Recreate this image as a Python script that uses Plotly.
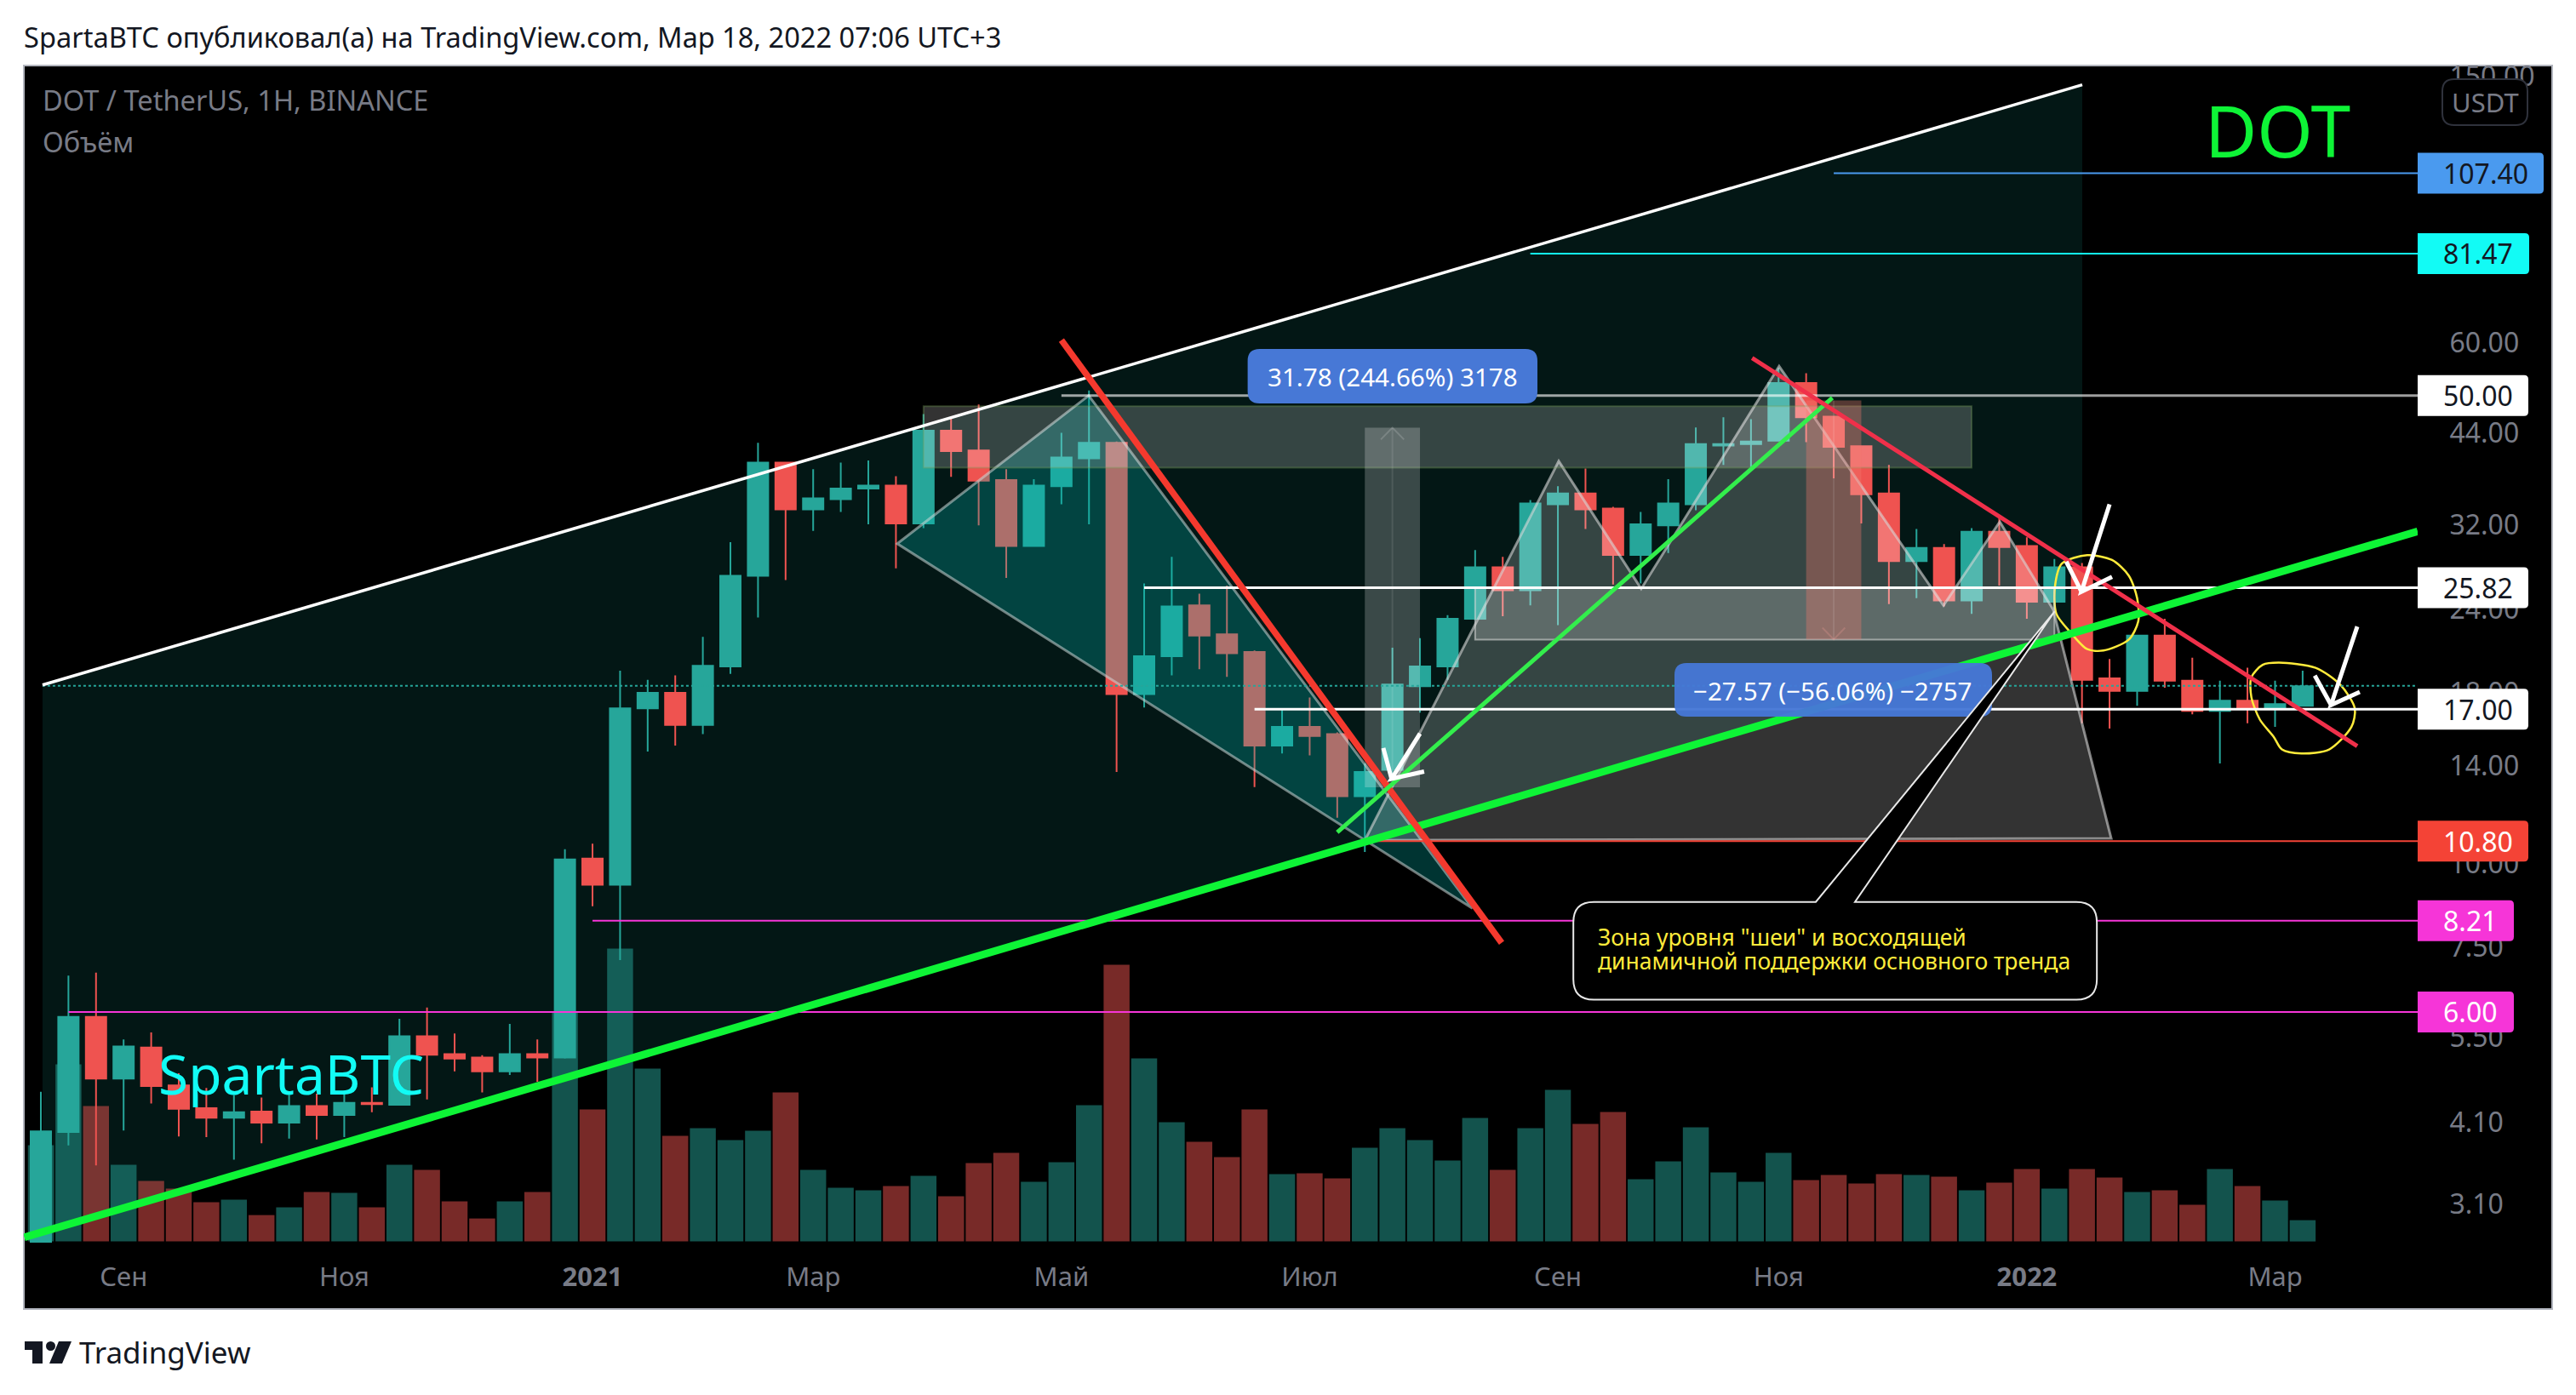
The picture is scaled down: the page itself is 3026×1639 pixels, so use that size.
import math
import plotly.graph_objects as go

# ---------- data ----------
weeks = list(range(83))
open_ = [2.71,3.97,5.90,4.77,5.31,4.66,4.31,4.17,4.26,4.10,4.34,4.21,4.39,4.36,5.52,5.19,5.13,4.89,5.19,5.13,
         10.17,9.29,17.05,17.98,16.1,19.7,26.9,39.7,33.8,35.0,36.3,36.7,32.2,44.3,41.4,37.4,29.8,36.6,40.3,42.5,
         17.9,20.4,24.3,22.0,20.7,15.0,16.0,15.6,12.6,13.8,18.4,19.7,23.2,27.7,25.6,34.4,35.7,33.9,28.9,32.0,
         34.4,42.1,42.3,42.8,52.2,46.5,42.0,35.7,28.3,29.6,24.7,31.3,29.8,24.6,27.7,18.9,18.1,21.9,18.75,16.9,
         17.5,17.05,17.2]
high = [4.56,6.80,6.87,5.46,5.59,4.86,4.62,4.51,4.47,4.51,4.53,4.56,4.63,5.86,6.09,5.57,5.17,5.76,5.46,10.5,
        10.7,19.4,18.8,19.1,21.8,30.2,42.5,39.8,38.8,39.7,40.0,37.9,46.9,46.4,48.5,38.8,37.5,44.0,50.9,42.7,
        26.2,28.7,25.3,26.0,20.8,17.0,17.7,15.7,14.1,21.0,21.7,23.5,29.4,28.7,34.9,36.6,38.9,34.1,33.5,37.5,
        44.8,46.4,46.1,55.0,54.0,46.6,42.1,39.4,31.6,30.0,31.7,33.0,30.7,28.5,28.1,20.2,21.9,23.2,20.3,18.75,
        19.6,18.75,19.4]
low = [2.71,3.79,3.54,3.99,4.38,3.91,3.90,3.61,3.82,3.88,3.87,3.90,4.25,4.35,4.44,4.89,4.55,4.83,4.72,5.11,
       8.63,7.17,14.7,15.0,15.6,19.2,23.3,26.5,31.4,33.5,32.1,27.6,31.7,37.8,32.0,26.7,29.8,34.4,32.1,13.7,
       17.1,19.1,19.5,19.0,13.0,14.6,14.5,11.7,10.4,13.3,16.8,18.8,23.1,23.4,24.3,22.7,31.6,26.1,26.2,29.1,
       33.7,39.4,39.1,42.7,42.6,37.6,32.2,24.4,24.9,24.2,23.6,26.0,23.2,24.0,16.2,15.9,17.2,18.3,16.7,14.1,
       16.2,16.0,17.2]
close = [3.98,5.90,4.77,5.33,4.65,4.30,4.17,4.25,4.10,4.34,4.21,4.39,4.37,5.52,5.18,5.11,4.89,5.19,5.13,10.14,
         9.29,17.05,17.98,16.1,19.74,26.9,39.7,33.8,35.1,36.3,36.7,32.2,44.3,41.3,37.3,29.8,36.7,40.4,42.5,17.9,
         20.4,24.2,21.9,20.6,15.0,16.0,15.5,12.6,13.7,18.5,19.7,23.2,27.7,25.6,34.5,35.7,33.8,28.9,32.1,34.5,
         42.3,42.3,42.7,52.2,46.4,41.9,35.6,28.3,29.6,24.7,31.3,29.7,24.6,27.7,18.8,18.1,21.9,18.75,16.9,17.5,
         17.05,17.3,18.4]
volume = [11.3,20.8,15.9,9.0,7.1,6.2,4.6,4.9,3.1,4.0,5.8,5.7,4.0,9.0,8.4,4.7,2.7,4.7,5.8,27.0,
          15.5,34.4,20.3,12.4,13.3,11.9,13.0,17.5,8.4,6.3,6.0,6.5,7.7,5.3,9.2,10.4,7.0,9.3,16.0,32.5,
          21.5,14.0,11.7,9.9,15.5,7.9,8.0,7.4,11.0,13.3,11.9,9.5,14.5,8.4,13.3,17.8,13.8,15.2,7.3,9.4,
          13.4,8.1,7.0,10.4,7.2,7.8,6.8,7.9,7.8,7.6,6.0,6.9,8.5,6.2,8.5,7.5,5.8,6.0,4.3,8.5,
          6.5,4.8,2.5]
month_ticks = [3, 11, 20, 28, 37, 46, 55, 63, 72, 81]
month_labels = ["Сен", "Ноя", "<b>2021</b>", "Мар", "Май", "Июл", "Сен", "Ноя", "<b>2022</b>", "Мар"]
price_ticks = [150, 60, 44, 32, 24, 18, 14, 10, 7.5, 5.5, 4.1, 3.1]
price_tick_labels = ["150.00", "60.00", "44.00", "32.00", "24.00", "18.00", "14.00", "10.00", "7.50", "5.50", "4.10", "3.10"]

last_price = 18.42
# horizontal rays: (start week, price)
ray_blue = (65, 107.40)
ray_cyan = (54, 81.47)
ray_50 = (37, 50.00)
ray_2582 = (40, 25.82)
ray_17 = (44, 17.00)
ray_108 = (48, 10.80)
ray_821 = (20, 8.21)
ray_6 = (1, 6.00)

# drawings: (week, price)
white_line = [(0.06, 18.48), (74.01, 145.6)]
green_main = [(-0.6, 2.763), (86.17, 31.34)]
channel = [(0.06, 18.48), (74.01, 145.6), (74.01, 22.27), (0.06, 2.816)]
zone_top = [(32, 48.2), (70, 39.0)]
zone_neck = [(52, 25.82), (73, 21.6)]
triangle = [(31.05, 30.04), (37.99, 50.0), (51.9, 8.57)]
hs_pattern = [(48, 10.83), (55.03, 39.9), (58.02, 25.73), (63.02, 55.3), (68.98, 24.29),
              (71.02, 32.4), (72.96, 23.92), (75.06, 10.9)]
range_up = [(48, 12.99), (50, 44.77)]
range_down = [(64, 49.18), (66, 21.61)]
red_thick = [(37.0, 60.5), (52.96, 7.61)]
green_thin = [(47.0, 11.13), (64.95, 49.6)]
red_thin = [(62.04, 56.9), (83.98, 14.97)]
arrow_1 = [(50.0, 15.63), (48.97, 13.38), (50.15, 13.72), (48.67, 14.87)]
arrow_2 = [(75.0, 34.4), (73.98, 25.47), (75.09, 26.8), (73.43, 28.25)]
arrow_3 = [(83.98, 22.59), (83.03, 17.25), (84.07, 18.04), (82.44, 19.08)]
circle_1 = [(74.19, 28.87), (75.09, 28.4), (75.7, 26.9), (76.0, 24.9), (76.04, 23.0), (75.7, 21.6), (74.78, 20.8),
            (74.19, 20.9), (73.58, 22.15), (73.07, 23.6), (73.02, 25.9), (73.27, 28.05), (74.19, 28.87)]
circle_2 = [(81.14, 19.95), (82.47, 19.6), (83.37, 18.48), (83.89, 17.05), (83.77, 16.0), (82.96, 14.8), (81.96, 14.6),
            (81.25, 14.8), (80.95, 15.46), (80.45, 16.4), (80.14, 17.73), (80.14, 18.97), (80.55, 19.8), (81.14, 19.95)]
callout_box = [(55.56, 8.76), (74.54, 6.26)]
callout_pointer = [(64.35, 8.76), (73.01, 23.8), (65.77, 8.76)]

# ---------- layout geometry ----------
W, H = 3026, 1639
BODY = 8  # the page keeps its default body margin
L, R, T, B = 28, 2840, 77, 1460
FRAME_R, FRAME_B = 2998, 1538
x_range = [-0.617, 86.17]
y_range = [0.4335, 2.192]
vol_range = [-0.14, 138.16]
FONT = "Noto Sans"
GREY = "#787B86"
UP, DOWN = "#26A69A", "#EF5350"


def px(x):
    return (x - L) / (R - L)


def py(y):
    return (B - y) / (B - T)


def pv(v):
    return (math.log10(v) - y_range[0]) / (y_range[1] - y_range[0])


def data_path(pts, closed=True):
    s = "M" + " L".join(f"{a},{b}" for a, b in pts)
    return s + (" Z" if closed else "")


shapes = []


def add_poly(pts, fill, line, width=2, layer="above", closed=True):
    shapes.append(dict(type="path", xref="x", yref="y2", path=data_path(pts, closed), fillcolor=fill,
                       line=dict(color=line, width=width), layer=layer))


def add_line(pts, color, width, dash="solid"):
    shapes.append(dict(type="line", xref="x", yref="y2", x0=pts[0][0], y0=pts[0][1], x1=pts[1][0], y1=pts[1][1],
                       line=dict(color=color, width=width, dash=dash)))


def add_rect(pts, fill, line, width=2):
    shapes.append(dict(type="rect", xref="x", yref="y2", x0=pts[0][0], y0=pts[0][1], x1=pts[1][0], y1=pts[1][1],
                       fillcolor=fill, line=dict(color=line, width=width)))


def add_ray(ray, color, width=2):
    add_line([ray, (x_range[1], ray[1])], color, width)


def add_arrow(pts, color="#FFFFFF", width=5):
    tail, tip, b1, b2 = pts
    path = f"M{tail[0]},{tail[1]} L{tip[0]},{tip[1]} L{b1[0]},{b1[1]} M{b2[0]},{b2[1]} L{tip[0]},{tip[1]}"
    shapes.append(dict(type="path", xref="x", yref="y2", path=path, line=dict(color=color, width=width)))


def paper_round(x0, y0, x1, y1, r, fill, line=None, lw=0, left=True):
    """x/y in pixels of the page"""
    P = lambda a, b: f"{px(a)},{py(b)}"
    rl = r if left else 0
    path = (f"M{P(x0 + rl, y0)} L{P(x1 - r, y0)} Q{P(x1, y0)} {P(x1, y0 + r)} L{P(x1, y1 - r)} Q{P(x1, y1)} {P(x1 - r, y1)} "
            f"L{P(x0 + rl, y1)} Q{P(x0, y1)} {P(x0, y1 - rl)} L{P(x0, y0 + rl)} Q{P(x0, y0)} {P(x0 + rl, y0)} Z")
    shapes.append(dict(type="path", xref="paper", yref="paper", path=path, fillcolor=fill,
                       line=dict(color=line or fill, width=lw)))


# frame + backdrop
shapes.append(dict(type="rect", xref="paper", yref="paper", x0=px(L), x1=px(FRAME_R), y0=py(T), y1=py(FRAME_B),
                   fillcolor="#000000", line=dict(color="#B2B5BE", width=2), layer="below"))
# channel background
add_poly(channel, "#031715", "rgba(0,0,0,0)", 0, layer="below")

# zones and patterns
ZONE = "rgba(255,255,255,0.2)"
add_poly(triangle, "rgba(0,188,180,0.28)", "rgba(205,215,215,0.55)", 3)
add_poly(hs_pattern, ZONE, "rgba(215,215,215,0.6)", 3)
add_rect(zone_top, ZONE, "rgba(120,160,90,0.35)", 2)
add_rect(zone_neck, ZONE, "rgba(215,215,215,0.6)", 2)

# price-range boxes
add_rect(range_up, "rgba(255,255,255,0.22)", "rgba(0,0,0,0)", 0)
mid_up = (range_up[0][0] + range_up[1][0]) / 2
add_line([(mid_up, range_up[0][1]), (mid_up, range_up[1][1])], "rgba(255,255,255,0.1)", 2)
add_poly([(mid_up - 0.42, 42.99), (mid_up, range_up[1][1]), (mid_up + 0.42, 42.99)], "rgba(0,0,0,0)",
         "rgba(255,255,255,0.16)", 2, closed=False)
add_rect(range_down, "rgba(244,120,110,0.35)", "rgba(0,0,0,0)", 0)
mid_dn = (range_down[0][0] + range_down[1][0]) / 2
add_line([(mid_dn, range_down[0][1]), (mid_dn, range_down[1][1])], "rgba(255,255,255,0.1)", 2)
add_poly([(mid_dn - 0.41, 22.5), (mid_dn, range_down[1][1]), (mid_dn + 0.41, 22.5)], "rgba(0,0,0,0)",
         "rgba(255,170,160,0.22)", 2, closed=False)

# rays
add_line([(0.06, last_price), (x_range[1], last_price)], UP, 2, "dot")
add_ray(ray_blue, "#4A9AEF")
add_ray(ray_cyan, "#12FBF5")
add_ray(ray_50, "rgba(255,255,255,0.62)", 3)
add_ray(ray_2582, "#FFFFFF", 3)
add_ray(ray_17, "#FFFFFF", 3)
add_ray(ray_108, "#F44336", 2)
add_ray(ray_821, "#F635D8", 2)
add_ray(ray_6, "#F635D8", 2)

# trend lines
add_line(white_line, "#FFFFFF", 3.5)
add_line(green_main, "#0EF436", 9)
add_line(red_thick, "#F5392E", 7.5)
add_line(green_thin, "#33EE4C", 5)
add_line(red_thin, "#F0304A", 5)
add_arrow(arrow_1)
add_arrow(arrow_2)
add_arrow(arrow_3)

# measure labels
paper_round(1465.6, 410, 1806, 474, 14, "#4778D6")
paper_round(1967, 779, 2340, 842, 14, "rgba(70,120,214,0.96)")

# callout with pointer
(cx0, cy0), (cx1, cy1) = callout_box
rx, ry = 0.74, 1.073
c_path = (f"M{cx0 + rx},{cy0} L{callout_pointer[0][0]},{callout_pointer[0][1]} "
          f"L{callout_pointer[1][0]},{callout_pointer[1][1]} L{callout_pointer[2][0]},{callout_pointer[2][1]} "
          f"L{cx1 - rx},{cy0} Q{cx1},{cy0} {cx1},{cy0 / ry} L{cx1},{cy1 * ry} Q{cx1},{cy1} {cx1 - rx},{cy1} "
          f"L{cx0 + rx},{cy1} Q{cx0},{cy1} {cx0},{cy1 * ry} L{cx0},{cy0 / ry} Q{cx0},{cy0} {cx0 + rx},{cy0} Z")
shapes.append(dict(type="path", xref="x", yref="y2", path=c_path, fillcolor="#000000",
                   line=dict(color="#E8E8E8", width=2)))

annotations = []


def text(x, y, s, size, color, anchor="left", bold=False):
    annotations.append(dict(xref="paper", yref="paper", x=px(x), y=py(y), text=f"<b>{s}</b>" if bold else s,
                            showarrow=False, xanchor=anchor, yanchor="middle",
                            font=dict(family=FONT, size=size, color=color), borderpad=0, borderwidth=0))


# price badges
badges = [(107.40, "107.40", "#4A9AEF", "#131722", 2988), (81.47, "81.47", "#12FBF5", "#131722", 2971),
          (50.00, "50.00", "#FFFFFF", "#131722", 2970), (25.82, "25.82", "#FFFFFF", "#131722", 2970),
          (17.00, "17.00", "#FFFFFF", "#131722", 2970), (10.80, "10.80", "#F44336", "#FFFFFF", 2970),
          (8.21, "8.21", "#F635D8", "#FFFFFF", 2953), (6.00, "6.00", "#F635D8", "#FFFFFF", 2953)]
for val, lab, col, tcol, right in badges:
    yc = B - pv(val) * (B - T)
    paper_round(R, yc - 24, right, yc + 24, 5, col, left=False)
    text(2870, yc, lab, 32, tcol)

# USDT box
paper_round(2869, 93, 2969, 147, 14, "#000000", "#2F323C", 2)
text(2919, 120, "USDT", 31, GREY, anchor="center")

# TradingView logo
INK = "#131722"
logo_T = [(29, 1576), (50, 1576), (50, 1602), (38, 1602), (38, 1586), (29, 1586)]
logo_slash = [(69, 1576), (84, 1576), (73, 1602), (58, 1602)]
for pts in (logo_T, logo_slash):
    shapes.append(dict(type="path", xref="paper", yref="paper",
                       path=data_path([(px(a), py(b)) for a, b in pts]), fillcolor=INK, line=dict(width=0)))
shapes.append(dict(type="circle", xref="paper", yref="paper", x0=px(54), x1=px(65), y0=py(1576), y1=py(1587),
                   fillcolor=INK, line=dict(width=0)))

text(28, 43, "SpartaBTC опубликовал(а) на TradingView.com, Мар 18, 2022 07:06 UTC+3", 32.6, INK)
text(50, 118, "DOT / TetherUS, 1H, BINANCE", 32.6, GREY)
text(50, 167, "Объём", 32.6, GREY)
text(93, 1588, "TradingView", 35, INK)
text(2590, 153, "DOT", 84, "#0EF436")
text(186, 1261, "SpartaBTC", 64, "#12FBF5")
text(1636, 442, "31.78 (244.66%) 3178", 29.6, "#FFFFFF", anchor="center")
text(2153, 811, "−27.57 (−56.06%) −2757", 29.6, "#FFFFFF", anchor="center")
text(1877, 1101, "Зона уровня \"шеи\" и восходящей", 26.5, "#FFEB3B")
text(1877, 1129, "динамичной поддержки основного тренда", 26.5, "#FFEB3B")

# ---------- traces ----------
fig = go.Figure()
vol_colors = ["rgba(38,166,154,0.5)" if c >= o else "rgba(239,83,80,0.5)" for o, c in zip(open_, close)]
fig.add_trace(go.Bar(x=weeks, y=volume, marker=dict(color=vol_colors, line=dict(width=0)), width=0.94,
                     yaxis="y", name="Объём", hoverinfo="skip"))
fig.add_trace(go.Candlestick(x=weeks, open=open_, high=high, low=low, close=close, yaxis="y2", name="DOT",
                             increasing=dict(line=dict(color=UP, width=2), fillcolor=UP),
                             decreasing=dict(line=dict(color=DOWN, width=2), fillcolor=DOWN),
                             whiskerwidth=0))
for ring in (circle_1, circle_2):
    fig.add_trace(go.Scatter(x=[p[0] for p in ring], y=[p[1] for p in ring], mode="lines", yaxis="y2",
                             line=dict(color="#FFEB3B", width=2.5, shape="spline", smoothing=0.8),
                             hoverinfo="skip", name="circle"))

FW, FH = W - 2 * BODY, H - 2 * BODY
fig.update_layout(
    width=FW, height=FH,
    autosize=False,
    margin=dict(l=L - BODY, r=FW - (R - BODY), t=T - BODY, b=FH - (B - BODY), pad=0),
    paper_bgcolor="#FFFFFF", plot_bgcolor="#000000",
    showlegend=False,
    boxgap=0.26, boxgroupgap=0,
    bargap=0.06,
    font=dict(family=FONT),
    xaxis=dict(range=x_range, showgrid=False, zeroline=False, showline=False, rangeslider=dict(visible=False),
               tickmode="array", tickvals=month_ticks, ticktext=month_labels, ticks="outside", ticklen=13,
               tickcolor="rgba(0,0,0,0)", tickfont=dict(family=FONT, size=31, color=GREY)),
    yaxis=dict(range=vol_range, showgrid=False, zeroline=False, showticklabels=False, showline=False, ticks=""),
    yaxis2=dict(type="log", range=y_range, overlaying="y", side="right", showgrid=False, zeroline=False,
                showline=False, tickmode="array", tickvals=price_ticks, ticktext=price_tick_labels,
                ticks="outside", ticklen=30, tickcolor="rgba(0,0,0,0)",
                tickfont=dict(family=FONT, size=32, color=GREY)),
    shapes=shapes, annotations=annotations,
)
fig.write_html("out.html", config=dict(displayModeBar=False))
